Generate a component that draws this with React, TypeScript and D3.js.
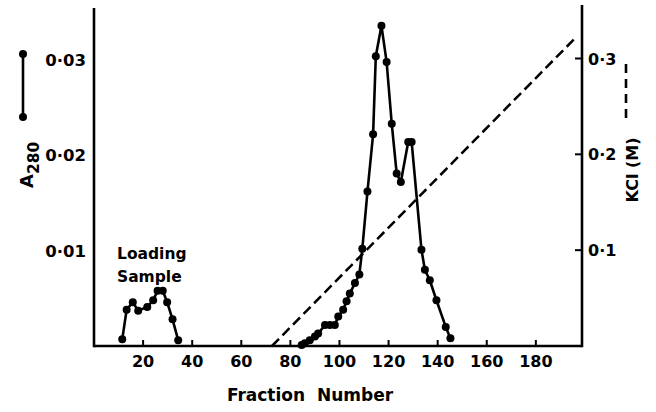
import React from "react";
import * as d3 from "d3";

// Fraction number / A280 readings
const loadingFractions = [11.5, 13.3, 15.8, 18.0, 21.7, 24.1, 25.9, 28.0, 29.8, 32.0, 34.3];
const loadingA280 = [0.0007, 0.0038, 0.0046, 0.0037, 0.0041, 0.0048, 0.0058, 0.0058, 0.0046, 0.0028, 0.0006];

const mainFractions = [84.6, 85.9, 87.9, 90.0, 91.3, 94.1, 96.1, 98.1, 99.5, 101.5, 102.9, 104.2, 106.3, 108.1, 109.3, 111.4, 113.7, 114.8, 117.1, 119.2, 121.3, 123.3, 125.0, 128.0, 129.4, 133.4, 134.8, 136.8, 139.5, 143.3, 145.2];
const mainA280 = [0.0001, 0.0003, 0.0006, 0.0010, 0.0013, 0.0022, 0.0022, 0.0022, 0.0031, 0.0038, 0.0047, 0.0055, 0.0066, 0.0075, 0.0102, 0.0162, 0.0222, 0.0304, 0.0336, 0.0298, 0.0233, 0.0181, 0.0172, 0.0214, 0.0214, 0.0101, 0.0080, 0.0069, 0.0048, 0.0020, 0.0008];

// KCl gradient (M)
const kclFractions = [72.5, 196.3];
const kclMolar = [0, 0.322];

const xTicks = [20, 40, 60, 80, 100, 120, 140, 160, 180];
const leftTicks = [0.01, 0.02, 0.03];
const leftTickLabels = ["0·01", "0·02", "0·03"];
const rightTicks = [0.1, 0.2, 0.3];
const rightTickLabels = ["0·1", "0·2", "0·3"];

const W = 656;
const H = 412;
const left = 94;
const right = 582;
const bottom = 346;

export default function App() {
  const x = d3.scaleLinear().domain([0, 198.8]).range([left, right]);
  const yA = d3.scaleLinear().domain([0, 0.03]).range([bottom, 60]);
  const yK = d3.scaleLinear().domain([0, 0.3]).range([bottom, 58.5]);

  const lineA = d3
    .line<[number, number]>()
    .x((d) => x(d[0]))
    .y((d) => yA(d[1]));
  const lineK = d3
    .line<[number, number]>()
    .x((d) => x(d[0]))
    .y((d) => yK(d[1]));

  const loading: [number, number][] = loadingFractions.map((f, i) => [f, loadingA280[i]]);
  const main: [number, number][] = mainFractions.map((f, i) => [f, mainA280[i]]);
  const kcl: [number, number][] = kclFractions.map((f, i) => [f, kclMolar[i]]);

  const font = "'DejaVu Sans', sans-serif";

  return (
    <svg
      width={W}
      height={H}
      viewBox={`0 0 ${W} ${H}`}
      style={{ position: "absolute", left: 0, top: 0, background: "#fff" }}
      fontFamily={font}
      fontWeight="bold"
    >
      <rect x={0} y={0} width={W} height={H} fill="#fff" />
      {/* axes */}
      <g stroke="#000" strokeWidth={2.6} fill="none">
        <line x1={left} y1={8} x2={left} y2={bottom + 1.3} />
        <line x1={left} y1={bottom} x2={right} y2={bottom} />
        <line x1={right} y1={5} x2={right} y2={bottom + 1.3} />
      </g>
      {/* x ticks */}
      {xTicks.map((t) => (
        <g key={t}>
          <line x1={x(t)} x2={x(t)} y1={bottom} y2={bottom - 6} stroke="#000" strokeWidth={2} />
          <text x={x(t)} y={367} textAnchor="middle" fontSize={16}>
            {t}
          </text>
        </g>
      ))}
      {/* left tick labels */}
      {leftTicks.map((t, i) => (
        <text key={t} x={86} y={yA(t) + 6} textAnchor="end" fontSize={16.5}>
          {leftTickLabels[i]}
        </text>
      ))}
      {/* right ticks */}
      {rightTicks.map((t, i) => (
        <g key={t}>
          <line x1={right - 7} x2={right} y1={yK(t)} y2={yK(t)} stroke="#000" strokeWidth={2} />
          <text x={588} y={yK(t) + 6} textAnchor="start" fontSize={16}>
            {rightTickLabels[i]}
          </text>
        </g>
      ))}
      {/* KCl gradient */}
      <path d={lineK(kcl) || ""} fill="none" stroke="#000" strokeWidth={2.5} strokeDasharray="10 5" />
      {/* A280 series */}
      <path d={lineA(loading) || ""} fill="none" stroke="#000" strokeWidth={2.6} strokeLinejoin="round" />
      <path d={lineA(main) || ""} fill="none" stroke="#000" strokeWidth={2.6} strokeLinejoin="round" />
      {loading.concat(main).map((d, i) => (
        <circle key={i} cx={x(d[0])} cy={yA(d[1])} r={4} fill="#000" />
      ))}
      {/* Loading sample label */}
      <text x={117} y={259} fontSize={15.5}>
        Loading
      </text>
      <text x={117} y={282} fontSize={15.5}>
        Sample
      </text>
      {/* x axis title */}
      <text x={310} y={401} textAnchor="middle" fontSize={17} style={{ whiteSpace: "pre" }} xmlSpace="preserve">
        Fraction  Number
      </text>
      {/* left legend & title */}
      <line x1={23} y1={54} x2={23} y2={117} stroke="#000" strokeWidth={2.6} />
      <circle cx={23} cy={54} r={4} fill="#000" />
      <circle cx={23} cy={117} r={4} fill="#000" />
      <text transform="translate(33,188) rotate(-90)" fontSize={18}>
        A
        <tspan dy={6} fontSize={15.5}>
          280
        </tspan>
      </text>
      {/* right legend & title */}
      <line x1={626} y1={64} x2={626} y2={118} stroke="#000" strokeWidth={2.6} strokeDasharray="9 6" />
      <text transform="translate(638,170) rotate(-90)" textAnchor="middle" fontSize={16}>
        KCl  (M)
      </text>
    </svg>
  );
}
